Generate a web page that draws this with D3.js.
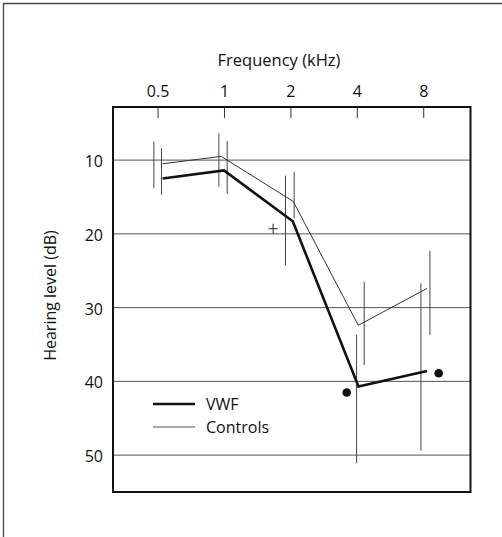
<html>
<head>
<style>
  body { margin: 0; background: #fff; }
  text { font-family: "Open Sans", sans-serif; fill: #111; }
</style>
</head>
<body>
<script src="https://d3js.org/d3.v7.min.js"></script>
<div id="chart"></div>
<script>
// tick labels
var freqTicks = [0.5, 1, 2, 4, 8];
var dbTicks = [10, 20, 30, 40, 50];

// mean thresholds (points are slightly staggered in frequency as in the figure)
var vwfFreq = [0.527, 1.0, 2.05, 4.07, 8.32];
var vwfDb = [12.5, 11.4, 18.3, 40.7, 38.6];
var ctrlFreq = [0.527, 0.971, 2.06, 4.06, 8.32];
var ctrlDb = [10.5, 9.5, 15.6, 32.4, 27.4];

// error bars
var vwfBarFreq = [0.521, 1.034, 1.90, 3.99, 7.81];
var vwfBarLow = [8.4, 7.4, 12.1, 33.7, 26.7];
var vwfBarHigh = [14.7, 14.6, 24.3, 51.1, 49.4];
var ctrlBarFreq = [0.481, 0.948, 2.08, 4.32, 8.58];
var ctrlBarLow = [7.5, 6.4, 11.6, 26.5, 22.3];
var ctrlBarHigh = [13.8, 13.6, 17.9, 37.8, 33.7];

// individual markers
var dotFreq = [3.6, 9.4];
var dotDb = [41.5, 38.9];
var crossFreq = [1.67];
var crossDb = [19.3];

var W = 502, H = 537;
var margin = {top: 107, right: 31.5, bottom: 45, left: 113};
var width = W - margin.left - margin.right,
    height = H - margin.top - margin.bottom;

var svg = d3.select("#chart").append("svg")
    .attr("width", W).attr("height", H);

// page frame (top and left edges only)
svg.append("path")
  .attr("d", "M3.5,537V3.5H502")
  .attr("fill", "none").attr("stroke", "#444").attr("stroke-width", 1.3);

var g = svg.append("g")
  .attr("transform", "translate(" + margin.left + "," + margin.top + ")");

var x = d3.scaleLog().base(2).domain([0.314, 13.1]).range([0, width]);
var y = d3.scaleLinear().domain([2.8, 55]).range([0, height]);

// horizontal grid
g.selectAll(".grid")
  .data(dbTicks)
  .enter().append("line")
    .attr("x1", 0).attr("x2", width)
    .attr("y1", function(d) { return y(d); })
    .attr("y2", function(d) { return y(d); })
    .attr("stroke", "#555").attr("stroke-width", 1);

// top axis
var xAxis = g.append("g")
  .call(d3.axisTop(x).tickValues(freqTicks).tickFormat(d3.format("")).tickSize(-11).tickPadding(10));
xAxis.select(".domain").remove();
xAxis.selectAll("line").attr("stroke", "#333");
xAxis.selectAll("text").style("font-size", "16px").attr("fill", "#111");

// left axis labels
var yAxis = g.append("g")
  .call(d3.axisLeft(y).tickValues(dbTicks).tickSize(0).tickPadding(10));
yAxis.select(".domain").remove();
yAxis.selectAll("text").style("font-size", "16px").attr("fill", "#111").attr("dy", "0.4em");

// frame
g.append("rect")
  .attr("width", width).attr("height", height)
  .attr("fill", "none").attr("stroke", "#111").attr("stroke-width", 2);

// error bars
function bars(fr, lo, hi) {
  g.append("g").selectAll("line")
    .data(fr)
    .enter().append("line")
      .attr("x1", function(d) { return x(d); })
      .attr("x2", function(d) { return x(d); })
      .attr("y1", function(d, i) { return y(lo[i]); })
      .attr("y2", function(d, i) { return y(hi[i]); })
      .attr("stroke", "#444").attr("stroke-width", 1);
}
bars(vwfBarFreq, vwfBarLow, vwfBarHigh);
bars(ctrlBarFreq, ctrlBarLow, ctrlBarHigh);

var line = d3.line()
  .x(function(d) { return x(d[0]); })
  .y(function(d) { return y(d[1]); });

g.append("path")
  .datum(d3.zip(ctrlFreq, ctrlDb))
  .attr("d", line)
  .attr("fill", "none").attr("stroke", "#333").attr("stroke-width", 1);

g.append("path")
  .datum(d3.zip(vwfFreq, vwfDb))
  .attr("d", line)
  .attr("fill", "none").attr("stroke", "#111").attr("stroke-width", 2.6)
  .attr("stroke-linejoin", "miter");

// dots
g.selectAll(".dot")
  .data(d3.zip(dotFreq, dotDb))
  .enter().append("circle")
    .attr("cx", function(d) { return x(d[0]); })
    .attr("cy", function(d) { return y(d[1]); })
    .attr("r", 4.3)
    .attr("fill", "#111");

// cross
g.selectAll(".cross")
  .data(d3.zip(crossFreq, crossDb))
  .enter().append("path")
    .attr("d", function(d) {
      var cx = x(d[0]), cy = y(d[1]);
      return "M" + (cx - 4.5) + "," + cy + "H" + (cx + 4.5) +
             "M" + cx + "," + (cy - 5) + "V" + (cy + 5);
    })
    .attr("stroke", "#222").attr("stroke-width", 1);

// legend
var legend = [
  {name: "VWF", w: 2.6, c: "#111"},
  {name: "Controls", w: 1, c: "#555"}
];
var lg = g.selectAll(".legend")
  .data(legend)
  .enter().append("g")
    .attr("transform", function(d, i) { return "translate(40," + (297 + i * 23) + ")"; });
lg.append("line")
  .attr("x1", 0).attr("x2", 42)
  .attr("stroke", function(d) { return d.c; })
  .attr("stroke-width", function(d) { return d.w; });
lg.append("text")
  .attr("x", 53).attr("dy", "0.36em")
  .style("font-size", "16px")
  .text(function(d) { return d.name; });

// titles
svg.append("text")
  .attr("x", 279).attr("y", 60).attr("dy", "0.35em")
  .attr("text-anchor", "middle")
  .style("font-size", "16.5px")
  .text("Frequency (kHz)");

svg.append("text")
  .attr("transform", "translate(50,295.5)rotate(-90)")
  .attr("dy", "0.35em")
  .attr("text-anchor", "middle")
  .style("font-size", "16px")
  .text("Hearing level (dB)");
</script>
</body>
</html>
